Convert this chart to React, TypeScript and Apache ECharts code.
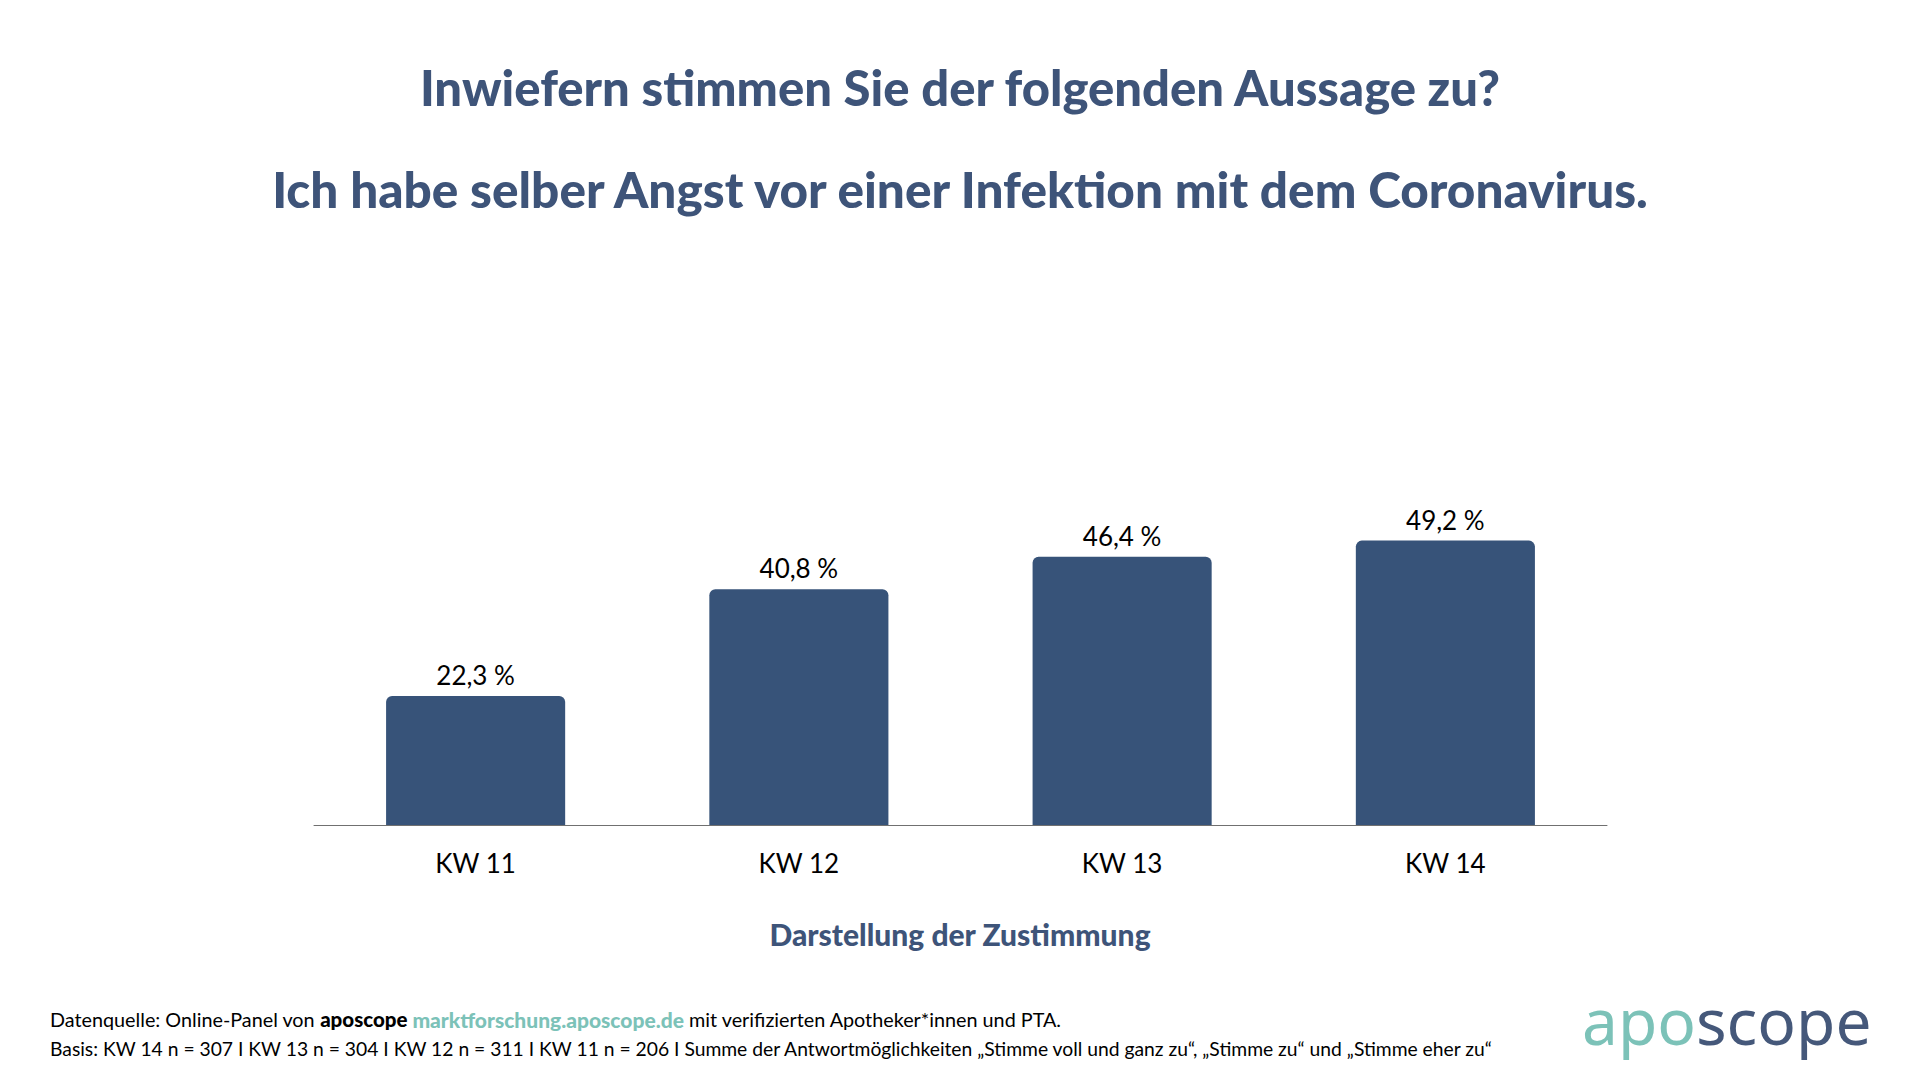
import React, { useEffect, useRef } from "react";
import * as echarts from "echarts";

const categories = ["KW 11", "KW 12", "KW 13", "KW 14"];
const values = [22.3, 40.8, 46.4, 49.2];
const titleLine1 = "Inwiefern stimmen Sie der folgenden Aussage zu?";
const titleLine2 = "Ich habe selber Angst vor einer Infektion mit dem Coronavirus.";
const axisTitle = "Darstellung der Zustimmung";
const footLine1 = "{n|Datenquelle: Online-Panel von }{b|aposcope }{l|marktforschung.aposcope.de}{n| mit verifizierten Apotheker*innen und PTA.}";
const footLine2 = "Basis: KW 14 n = 307 I KW 13 n = 304 I KW 12 n = 311 I KW 11 n = 206 I Summe der Antwortmöglichkeiten „Stimme voll und ganz zu“, „Stimme zu“ und „Stimme eher zu“";

const BLUE = "#375379";
const TITLE = "#3e5479";
const TEAL = "#7cc2b8";
const FONT = "Lato";

export default function App() {
  const ref = useRef<HTMLDivElement>(null);
  useEffect(() => {
    if (!ref.current) return;
    const chart = echarts.init(ref.current, undefined, { renderer: "svg" });
    chart.setOption({
      animation: false,
      backgroundColor: "#ffffff",
      grid: { left: 314, right: 313, top: 247, bottom: 255 },
      xAxis: {
        type: "category",
        data: categories,
        axisLine: { lineStyle: { color: "#707070", width: 1 } },
        axisTick: { show: false },
        axisLabel: { color: "#000", fontSize: 26, fontFamily: FONT, margin: 25 },
      },
      yAxis: { type: "value", min: 0, max: 100, show: false, splitLine: { show: false } },
      series: [
        {
          type: "bar",
          data: values,
          barCategoryGap: "44.6%",
          itemStyle: { color: BLUE, borderRadius: [6, 6, 0, 0] },
          label: {
            show: true,
            position: "top",
            distance: 8,
            color: "#000",
            fontSize: 26,
            fontFamily: FONT,
            formatter: (p: any) => p.value.toFixed(1).replace(".", ",") + " %",
          },
        },
      ],
      graphic: [
        {
          type: "text", x: 960, y: 87,
          style: { text: titleLine1, fill: TITLE, font: `900 49px ${FONT}`, textAlign: "center", textVerticalAlign: "middle" },
        },
        {
          type: "text", x: 960, y: 189,
          style: { text: titleLine2, fill: TITLE, font: `900 49.5px ${FONT}`, textAlign: "center", textVerticalAlign: "middle" },
        },
        {
          type: "text", x: 960, y: 934,
          style: { text: axisTitle, fill: TITLE, font: `900 30px ${FONT}`, textAlign: "center", textVerticalAlign: "middle" },
        },
        {
          type: "text", x: 50, y: 1019,
          style: {
            text: footLine1, textVerticalAlign: "middle",
            rich: {
              n: { fill: "#000", fontSize: 19.8, fontFamily: FONT },
              b: { fill: "#000", fontSize: 20.5, fontFamily: FONT, fontWeight: 900 },
              l: { fill: TEAL, fontSize: 21, fontFamily: FONT, fontWeight: 900 },
            },
          },
        },
        {
          type: "text", x: 50, y: 1048,
          style: { text: footLine2, fill: "#000", font: `19.3px ${FONT}`, textVerticalAlign: "middle" },
        },
        {
          type: "text", x: 1582, y: 1020,
          style: {
            text: "{a|apo}{b|scope}", textVerticalAlign: "middle",
            rich: {
              a: { fill: TEAL, fontSize: 64, fontFamily: "Noto Sans" },
              b: { fill: "#45587a", fontSize: 64, fontFamily: "Noto Sans" },
            },
          },
        },
      ],
    });
    return () => chart.dispose();
  }, []);
  return <div ref={ref} style={{ position: "fixed", left: 0, top: 0, width: 1920, height: 1080 }} />;
}
